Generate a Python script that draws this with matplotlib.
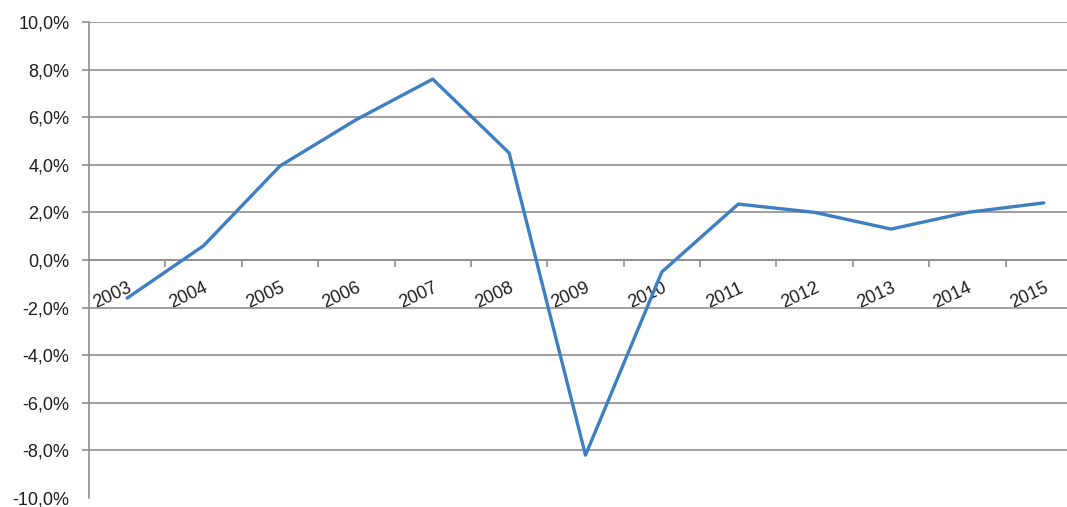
import numpy as np
import matplotlib
matplotlib.use("Agg")
import matplotlib.pyplot as plt

years = ["2003", "2004", "2005", "2006", "2007", "2008", "2009",
         "2010", "2011", "2012", "2013", "2014", "2015"]
growth = [-1.6, 0.6, 3.95, 5.9, 7.6, 4.5, -8.2, -0.5, 2.35, 2.0, 1.3, 2.0, 2.4]
y_ticks = [-10, -8, -6, -4, -2, 0, 2, 4, 6, 8, 10]

grid_color = "#8f8f8f"
text_color = "#1e1e1e"
plt.rcParams["font.family"] = ["Liberation Sans", "DejaVu Sans"]

fig = plt.figure(figsize=(10.67, 5.07), dpi=100)
ax = fig.add_axes([89 / 1067, 9 / 507, 993 / 1067, 476 / 507])

x = np.arange(len(years))
ax.plot(x, growth, color="#3d7fc1", lw=2.4, solid_joinstyle="round",
        solid_capstyle="round", zorder=3)

ax.set_xlim(-0.5, len(years) - 0.5)
ax.set_ylim(-10, 10)

# горизонтальная сетка, нижнюю линию и засечку не рисуем
ax.set_yticks(y_ticks)
ax.set_yticklabels([f"{v:.1f}%".replace(".", ",") for v in y_ticks])
ax.yaxis.grid(True, color=grid_color, lw=1.2)
ax.yaxis.get_gridlines()[0].set_visible(False)
ax.yaxis.get_major_ticks()[0].tick1line.set_visible(False)
ax.tick_params(axis="y", length=5, width=1.2, color=grid_color, pad=9,
               labelsize=13, labelcolor=text_color)

# ось категорий проходит через ноль
ax.spines["bottom"].set_position(("data", 0))
ax.spines["bottom"].set_color(grid_color)
ax.spines["bottom"].set_linewidth(1.2)
ax.spines["left"].set_color(grid_color)
ax.spines["left"].set_linewidth(1.2)
ax.spines["top"].set_visible(False)
ax.spines["right"].set_visible(False)

ax.set_xticks(x)
ax.set_xticklabels(years, rotation=25, ha="right", va="top",
                   rotation_mode="anchor")
ax.set_xticks(np.arange(0.5, len(years) - 0.5), minor=True)
ax.tick_params(axis="x", which="major", length=0, pad=14, labelsize=13,
               labelcolor=text_color)
ax.tick_params(axis="x", which="minor", length=5, width=1.2,
               color=grid_color, direction="out")

fig.savefig("out.png", dpi=100)
